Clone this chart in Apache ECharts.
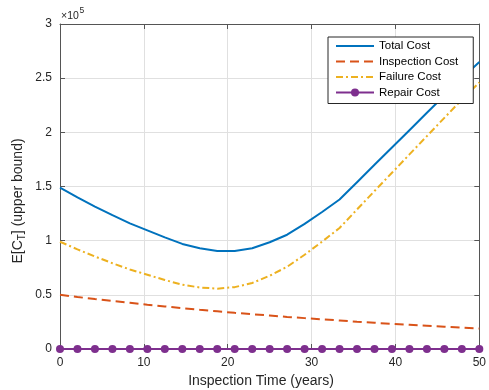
<!DOCTYPE html>
<html>
<head>
<meta charset="utf-8">
<script src="https://cdn.jsdelivr.net/npm/echarts@6/dist/echarts.min.js"></script>
<style>html,body{margin:0;padding:0;background:#fff}#c{width:489px;height:390px}</style>
</head>
<body>
<div id="c"></div>
<script>
// Inspection times (years): 25 samples from 0 to 50
var inspectionTimes = [0, 2.083, 4.167, 6.25, 8.333, 10.417, 12.5, 14.583, 16.667, 18.75, 20.833, 22.917, 25, 27.083, 29.167, 31.25, 33.333, 35.417, 37.5, 39.583, 41.667, 43.75, 45.833, 47.917, 50];
var totalCost = [149000, 140000, 131500, 123500, 116000, 109500, 103000, 97000, 93000, 90500, 90500, 93000, 98500, 105500, 115500, 126500, 138000, 154000, 170000, 186000, 202000, 218000, 234000, 250000, 265000];
var inspectionCost = [50000, 48000, 46100, 44300, 42600, 40900, 39300, 37700, 36200, 34800, 33400, 32100, 30900, 29600, 28500, 27400, 26300, 25200, 24200, 23300, 22400, 21500, 20600, 19800, 19000];
var failureCost = [99000, 92000, 85400, 79200, 73400, 68600, 63700, 59300, 56800, 55700, 57100, 60900, 67600, 75900, 87000, 99100, 111700, 128800, 145800, 162700, 179600, 196500, 213400, 230200, 246000];
var repairCost = [0, 0, 0, 0, 0, 0, 0, 0, 0, 0, 0, 0, 0, 0, 0, 0, 0, 0, 0, 0, 0, 0, 0, 0, 0];
var seriesNames = ['Total Cost', 'Inspection Cost', 'Failure Cost', 'Repair Cost'];
var xTicks = [0, 10, 20, 30, 40, 50];
var yTickLabels = ['0', '0.5', '1', '1.5', '2', '2.5', '3'];
var xTitle = 'Inspection Time (years)';

function pairs(arr) { return inspectionTimes.map(function (x, i) { return [x, arr[i]]; }); }

var axisColor = '#555555';
var textColor = '#262626';
var font = 'Liberation Sans, Arial, Helvetica, sans-serif';

var chart = echarts.init(document.getElementById('c'), null, {renderer: 'canvas'});
chart.setOption({
  animation: false,
  backgroundColor: '#fff',
  grid: {left: 60, right: 4, top: 24, bottom: 41, containLabel: false},
  graphic: [{
    type: 'text', x: 61, y: 16.5,
    style: {text: '×10', fontSize: 10.5, fontFamily: font, fill: textColor, align: 'left', verticalAlign: 'middle'}
  }, {
    type: 'text', x: 79.5, y: 10.5,
    style: {text: '5', fontSize: 8.5, fontFamily: font, fill: textColor, align: 'left', verticalAlign: 'middle'}
  }, {
    type: 'text', x: 261, y: 381,
    style: {text: xTitle, fontSize: 14, fontFamily: font, fill: textColor, align: 'center', verticalAlign: 'middle'}
  }, {
    type: 'text', x: 18.5, y: 201, rotation: Math.PI / 2,
    style: {
      text: '{n|E[C}{s|T}{n|] (upper bound)}', align: 'center', verticalAlign: 'middle',
      rich: {
        n: {fontSize: 14, fontFamily: font, fill: textColor, lineHeight: 18, verticalAlign: 'middle'},
        s: {fontSize: 10, fontFamily: font, fill: textColor, lineHeight: 10, verticalAlign: 'bottom'}
      }
    }
  }],
  legend: {
    orient: 'vertical', left: 328, top: 37,
    padding: [3, 15, 5, 7],
    itemWidth: 38, itemHeight: 10, itemGap: 3.5,
    backgroundColor: '#fff', borderColor: '#262626', borderWidth: 1,
    textStyle: {fontSize: 11.5, fontFamily: font, color: '#000', lineHeight: 12},
    data: [
      {name: seriesNames[0], itemStyle: {opacity: 0}},
      {name: seriesNames[1], itemStyle: {opacity: 0}},
      {name: seriesNames[2], itemStyle: {opacity: 0}},
      {name: seriesNames[3]}
    ]
  },
  xAxis: [{
    type: 'value', min: 0, max: 50, interval: 10,
    axisLine: {show: true, onZero: false, lineStyle: {color: axisColor, width: 1}},
    axisTick: {show: true, inside: true, length: 5, lineStyle: {color: axisColor}},
    axisLabel: {fontSize: 12, fontFamily: font, color: textColor, margin: 8,
      alignMinLabel: 'center', alignMaxLabel: 'center', hideOverlap: false,
      formatter: function (v) { return xTicks.indexOf(v) >= 0 ? String(v) : ''; }},
    splitLine: {show: true, lineStyle: {color: '#e0e0e0', width: 1}}
  }, {
    type: 'value', position: 'top', min: 0, max: 50, interval: 10,
    axisLine: {show: true, onZero: false, lineStyle: {color: axisColor, width: 1}},
    axisTick: {show: true, inside: true, length: 5, lineStyle: {color: axisColor}},
    axisLabel: {show: false}, splitLine: {show: false}
  }],
  yAxis: [{
    type: 'value', min: 0, max: 300000, interval: 50000,
    axisLine: {show: true, onZero: false, lineStyle: {color: axisColor, width: 1}},
    axisTick: {show: true, inside: true, length: 5, lineStyle: {color: axisColor}},
    axisLabel: {fontSize: 12, fontFamily: font, color: textColor, margin: 8,
      formatter: function (v) { return yTickLabels[Math.round(v / 50000)]; }},
    splitLine: {show: true, lineStyle: {color: '#e0e0e0', width: 1}}
  }, {
    type: 'value', position: 'right', min: 0, max: 300000, interval: 50000,
    axisLine: {show: true, onZero: false, lineStyle: {color: axisColor, width: 1}},
    axisTick: {show: true, inside: true, length: 5, lineStyle: {color: axisColor}},
    axisLabel: {show: false}, splitLine: {show: false}
  }],
  series: [{
    name: seriesNames[0], type: 'line', data: pairs(totalCost), symbol: 'none',
    lineStyle: {color: '#0072BD', width: 2}, itemStyle: {color: '#0072BD'}, z: 3
  }, {
    name: seriesNames[1], type: 'line', data: pairs(inspectionCost), symbol: 'none',
    lineStyle: {color: '#D95319', width: 2, type: [9, 5]}, itemStyle: {color: '#D95319'}, z: 3
  }, {
    name: seriesNames[2], type: 'line', data: pairs(failureCost), symbol: 'none',
    lineStyle: {color: '#EDB120', width: 2, type: [7, 3, 2, 3]}, itemStyle: {color: '#EDB120'}, z: 3
  }, {
    name: seriesNames[3], type: 'line', data: pairs(repairCost), symbol: 'circle', symbolSize: 8,
    lineStyle: {color: '#7E2F8E', width: 2}, itemStyle: {color: '#7E2F8E'}, clip: false, z: 4
  }]
});
</script>
</body>
</html>
